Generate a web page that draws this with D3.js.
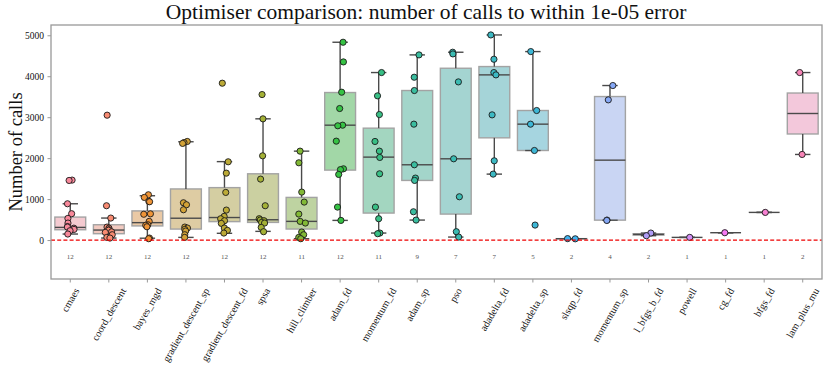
<!DOCTYPE html>
<html><head><meta charset="utf-8">
<script src="https://cdn.jsdelivr.net/npm/d3@7"></script>
<style>body{margin:0;background:#fff}svg{display:block}text{font-family:"Liberation Serif","DejaVu Serif",serif}</style>
</head><body><svg id="c" width="830" height="369"></svg>
<script>
const categories = ["cmaes","coord_descent","bayes_mgd","gradient_descent_sp","gradient_descent_fd","spsa","hill_climber","adam_fd","momentum_fd","adam_sp","pso","adadelta_fd","adadelta_sp","slsqp_fd","momentum_sp","l_bfgs_b_fd","powell","cg_fd","bfgs_fd","lam_plus_mu"];
const counts = [12,12,12,12,12,12,11,12,11,9,7,7,5,2,4,2,1,1,1,2];
const boxQ1  = [252,155,345,268,450,431,269,1708,659,1456,634,2496,2187,32,486,122,65,179,675,2590];
const boxMed = [309,244,425,533,550,496,456,2805,2025,1838,1984,4033,2830,33,1951,138,65,179,675,3090];
const boxQ3  = [561,374,712,1248,1280,1618,1041,3602,2732,3651,4195,4236,3163,34,3504,155,65,179,675,3590];
const whiskLo = [147,49,45,65,165,212,33,480,171,488,73,1610,2187,30,486,106,65,179,675,2090];
const whiskHi = [886,537,1082,2400,1915,2960,2171,4830,4090,4521,4586,5008,4602,35,3773,171,65,179,675,4090];
const pointValues = [
  [1464,1455,886,643,529,415,330,317,290,260,228,147],
  [3049,838,537,317,290,252,240,200,187,130,65,49],
  [1106,1041,943,935,640,630,456,374,360,325,49,33],
  [2407,2380,2360,911,862,740,317,293,260,220,130,65],
  [3830,1911,1634,1163,732,578,520,472,407,293,236,171],
  [3553,2960,2057,1488,838,521,490,472,430,415,309,204],
  [2171,1887,1171,927,634,456,415,196,130,65,33],
  [4830,4350,3610,3212,2805,2790,2415,1740,1720,1602,805,480],
  [4090,3521,3065,2407,2171,2017,1618,805,521,171,155],
  [4521,3976,3651,2830,1838,1513,1456,691,488],
  [4586,4545,3862,1984,1057,204,73],
  [5008,4415,4090,4033,3057,1935,1610],
  [4602,3163,2830,2187,366],
  [35,30],
  [3773,3423,488,479],
  [171,106],
  [65],
  [179],
  [675],
  [4090,2090]
];
const yTicks = [0,1000,2000,3000,4000,5000];
const titleText = "Optimiser comparison: number of calls to within 1e-05 error";
const yLabel = "Number of calls";

// HSLuv (husl) -> rgb, like seaborn.husl_palette
const M=[[3.240969941904521,-1.537383177570093,-0.498610760293],[-0.96924363628087,1.87596750150772,0.041555057407175],[0.055630079696993,-0.20397695888897,1.056971514242878]];
const kappa=903.2962962962963, eps=0.0088564516790356;
function bounds(L){const s1=Math.pow(L+16,3)/1560896;const s2=s1>eps?s1:L/kappa;const out=[];
 for(let c=0;c<3;c++){const [m1,m2,m3]=M[c];for(let t=0;t<2;t++){const top1=(284517*m1-94839*m3)*s2;const top2=(838422*m3+769860*m2+731718*m1)*L*s2-769860*t*L;const bot=(632260*m3-126452*m2)*s2+126452*t;out.push([top1/bot,top2/bot]);}}return out;}
function maxC(L,H){const hr=H/360*2*Math.PI;let mn=Infinity;for(const [sl,ic] of bounds(L)){const len=ic/(Math.sin(hr)-sl*Math.cos(hr));if(len>=0)mn=Math.min(mn,len);}return mn;}
function husl(H,S,L){const C=maxC(L,H)/100*S;const hr=H/360*2*Math.PI;const U=Math.cos(hr)*C,V=Math.sin(hr)*C;
 const rU=0.19783000664283,rV=0.46831999493879;const Y=L<=8?L/kappa:Math.pow((L+16)/116,3);
 const vU=U/(13*L)+rU,vV=V/(13*L)+rV;const X=9*Y*vU/(4*vV);const Z=(9*Y-15*vV*Y-vV*X)/(3*vV);
 const lin=M.map(r=>r[0]*X+r[1]*Y+r[2]*Z);const g=c=>c<=0.0031308?12.92*c:1.055*Math.pow(c,1/2.4)-0.055;
 return d3.rgb(...lin.map(c=>Math.max(0,Math.min(255,Math.round(g(c)*255)))));}
const n=categories.length;
const colors=categories.map((_,i)=>{const h=((i/n+0.01)%1)*359;return husl(h,0.9*99,0.7*99);});
function desat(c,p){const h=d3.hsl(c);h.s*=p;return h.rgb();}

const svg=d3.select("#c");
const L=51,R=822,T=25,B=279;
const x=d3.scaleBand().domain(categories).range([L,R]).padding(0);
const y=d3.scaleLinear().domain([-951,5251]).range([B,T]);
const bw=x.bandwidth()*0.8;

// title
svg.append("text").attr("x",426).attr("y",19).attr("text-anchor","middle").attr("font-size",21.5).attr("fill","#111").text(titleText);
// y label
svg.append("text").attr("transform",`translate(21.5,${(T+B)/2}) rotate(-90)`).attr("text-anchor","middle").attr("font-size",18.5).attr("fill","#111").text(yLabel);

// boxes
const g=svg.append("g");
categories.forEach((c,i)=>{
  const cx=x(c)+x.bandwidth()/2;
  const gray="#4a4a4a";
  g.append("line").attr("x1",cx).attr("x2",cx).attr("y1",y(whiskLo[i])).attr("y2",y(boxQ1[i])).attr("stroke",gray).attr("stroke-width",1.4);
  g.append("line").attr("x1",cx).attr("x2",cx).attr("y1",y(boxQ3[i])).attr("y2",y(whiskHi[i])).attr("stroke",gray).attr("stroke-width",1.4);
  [whiskLo[i],whiskHi[i]].forEach(v=>g.append("line").attr("x1",cx-bw/4).attr("x2",cx+bw/4).attr("y1",y(v)).attr("y2",y(v)).attr("stroke",gray).attr("stroke-width",1.4));
  g.append("rect").attr("x",cx-bw/2).attr("width",bw).attr("y",y(boxQ3[i])).attr("height",Math.max(0,y(boxQ1[i])-y(boxQ3[i])))
    .attr("fill",desat(colors[i],0.75)).attr("stroke",gray).attr("stroke-width",1.4).attr("opacity",0.5);
  g.append("line").attr("x1",cx-bw/2).attr("x2",cx+bw/2).attr("y1",y(boxMed[i])).attr("y2",y(boxMed[i])).attr("stroke",gray).attr("stroke-width",1.4);
});

// strip points (deterministic jitter)
const rnd=d3.randomUniform.source(d3.randomLcg(0.42))(-0.1,0.1);
categories.forEach((c,i)=>{
  const cx=x(c)+x.bandwidth()/2;
  pointValues[i].forEach(v=>{
    svg.append("circle").attr("cx",cx+rnd()*x.bandwidth()).attr("cy",y(v)).attr("r",3.1)
      .attr("fill",colors[i]).attr("stroke","#1a1a1a").attr("stroke-width",0.9);
  });
});

// zero line
svg.append("line").attr("x1",L).attr("x2",R).attr("y1",y(0)).attr("y2",y(0)).attr("stroke","#e00").attr("stroke-width",1.2).attr("stroke-dasharray","4,2.2");

// counts
categories.forEach((c,i)=>{
  svg.append("text").attr("x",x(c)+x.bandwidth()/2).attr("y",y(-420)).attr("text-anchor","middle").attr("dominant-baseline","central").attr("font-size",7).attr("fill","#555").text(counts[i]);
});

// frame
svg.append("rect").attr("x",L).attr("y",T).attr("width",R-L).attr("height",B-T).attr("fill","none").attr("stroke","#999").attr("stroke-width",1.3);

// y axis
const ya=svg.append("g").attr("transform",`translate(${L},0)`).call(d3.axisLeft(y).tickValues(yTicks).tickSize(3.5).tickPadding(3.5).tickFormat(d3.format("d")));
ya.select(".domain").remove();
ya.selectAll("line").attr("stroke","#999");
ya.selectAll("text").attr("font-size",9.5).attr("fill","#111").attr("font-family","Liberation Serif, serif");

// x axis
const xa=svg.append("g").attr("transform",`translate(0,${B})`).call(d3.axisBottom(x).tickSize(3.5).tickFormat(""));
xa.select(".domain").remove();
xa.selectAll("line").attr("stroke","#999");
const sin=Math.sin(Math.PI/3),cos=Math.cos(Math.PI/3),fs=10.2;
categories.forEach(c=>{
  const t=svg.append("text").attr("font-size",fs).attr("fill","#111").attr("text-anchor","middle").attr("dominant-baseline","central").text(c);
  const w=t.node().getComputedTextLength();
  const hgt=(w*sin+fs*0.75*cos)/2;
  const cx=x(c)+x.bandwidth()/2, cy=B+8+hgt;
  t.attr("transform",`translate(${cx},${cy}) rotate(-60)`);
});
</script></body></html>
